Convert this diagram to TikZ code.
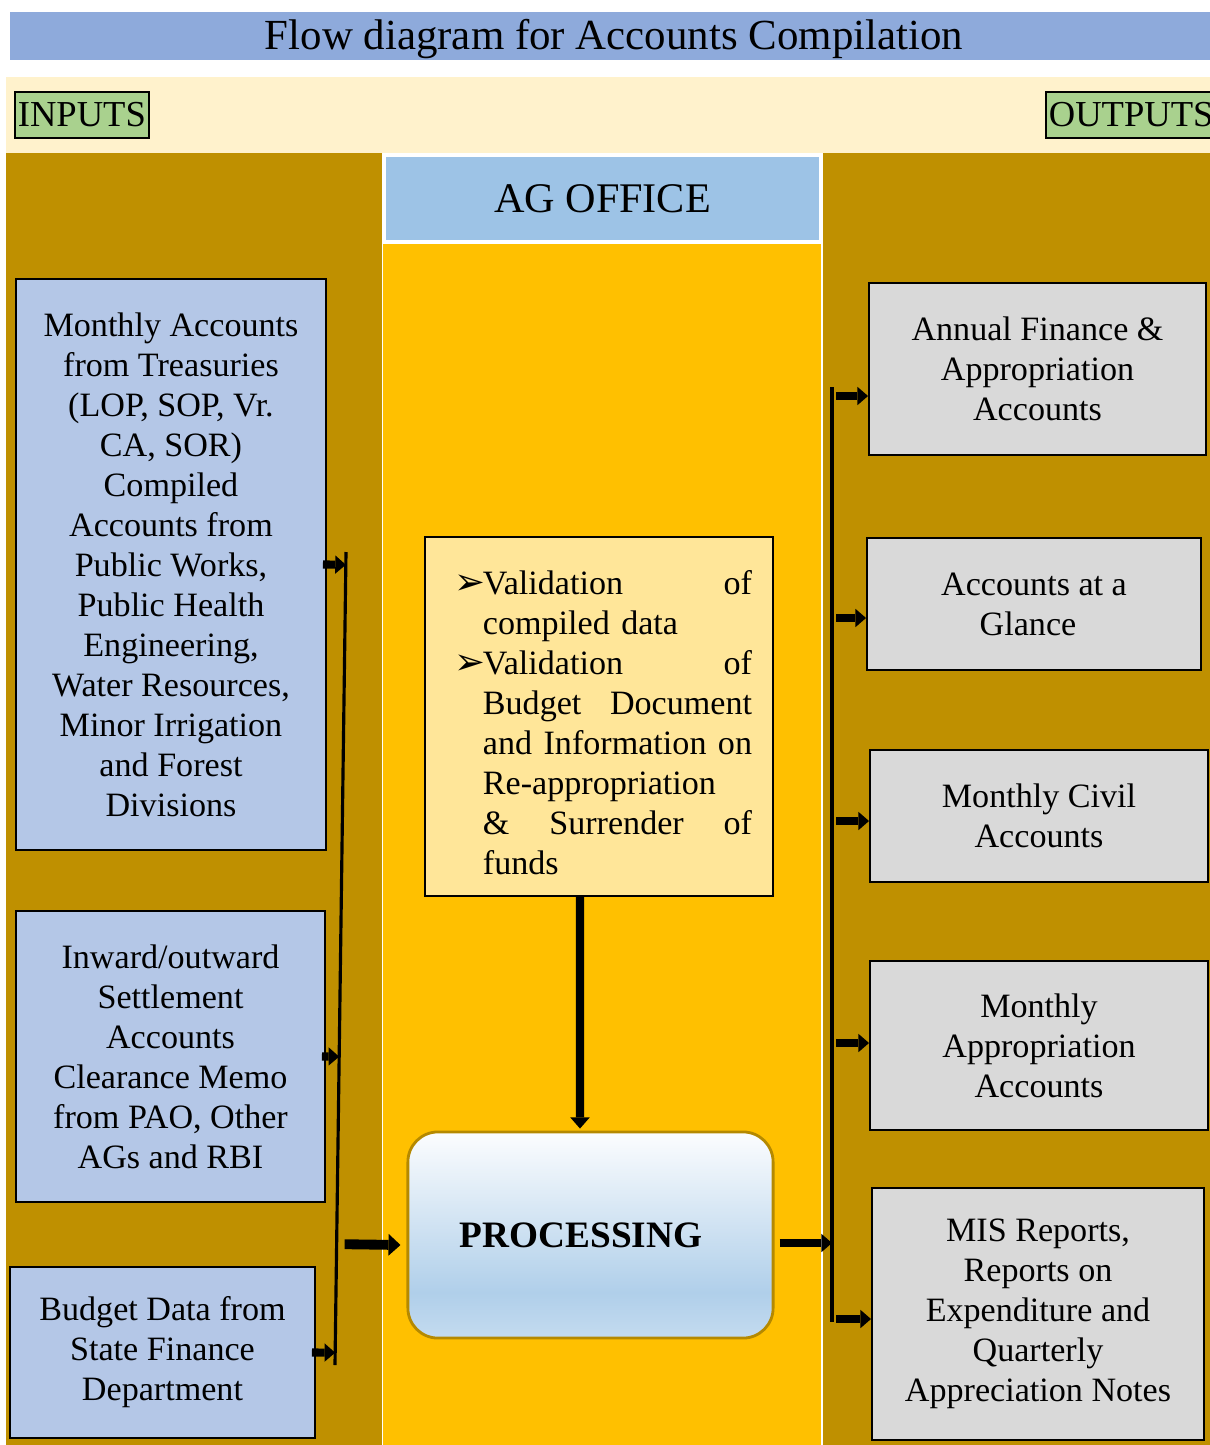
\documentclass[tikz,border=0pt]{standalone}
\usepackage{fontspec}
\setmainfont{Liberation Serif}
\newfontfamily\dejavu{DejaVu Sans}
\usetikzlibrary{arrows.meta,calc}
\definecolor{titleblue}{HTML}{8EAADB}
\definecolor{cream}{HTML}{FFF2CC}
\definecolor{gold}{HTML}{BF9000}
\definecolor{amber}{HTML}{FFC000}
\definecolor{headblue}{HTML}{9DC3E6}
\definecolor{inblue}{HTML}{B4C7E7}
\definecolor{paleyellow}{HTML}{FFE699}
\definecolor{outgray}{HTML}{D9D9D9}
\definecolor{tagreen}{HTML}{A9D18E}
\definecolor{procblue}{HTML}{B0CFEA}
\pgfdeclareverticalshading{procshade}{100bp}{color(0bp)=(procblue!75!white); color(25bp)=(procblue!75!white); color(36bp)=(procblue); color(75bp)=(white!96!procblue); color(100bp)=(white!96!procblue)}
\newcommand{\jline}[1]{\makebox[2.69cm][l]{#1}}
\newcommand{\valbullet}{\makebox[0.28cm][l]{\dejavu\fontsize{10.5}{10}\selectfont ➢}}
\begin{document}
\begin{tikzpicture}[x=0.01cm, y=-0.01cm,
  every node/.style={font=\fontsize{9.7}{11.38}\selectfont, inner sep=0pt},
  inbox/.style={draw=black, line width=0.5pt, fill=inblue, align=center},
  outbox/.style={draw=black, line width=0.5pt, fill=outgray, align=center},
  tag/.style={draw=black, line width=0.6pt, fill=tagreen, font=\fontsize{10.4}{12}\selectfont, inner xsep=0.8pt, minimum height=0.46cm, anchor=west},
  arr/.style={line width=2.3pt, -{Triangle[width=5.2pt,length=3pt,line width=0pt]}},
  bigarr/.style={line width=2.8pt, -{Triangle[width=6.2pt,length=3.4pt,line width=0pt]}},
  bus/.style={line width=0.9pt}]
\useasboundingbox (0,0) rectangle (1210,1445);
% bands and columns
\fill[titleblue] (10,12) rectangle (1210,60);
\node (title) at (614,39) {\fontsize{12.2}{14}\selectfont Flow diagram for Accounts Compilation};
\fill[cream] (6,77) rectangle (1210,153);
\fill[gold] (6,153) rectangle (381.5,1445);
\fill[gold] (822.5,153) rectangle (1210,1445);
\fill[amber] (383,155) rectangle (821,1445);
\node[fill=headblue, draw=white, line width=1pt, minimum width=4.37cm, minimum height=0.87cm] (head) at (602.5,198.5) {\fontsize{12}{14}\selectfont AG OFFICE};
\node[tag] (inputs) at (14,115) {INPUTS};
\node[tag] (outputs) at (1045,115) {OUTPUTS};
% inputs
\node[inbox, minimum width=3.10cm, minimum height=5.71cm] (in1) at (171,564.5) {Monthly Accounts\\from Treasuries\\(LOP, SOP, Vr.\\CA, SOR)\\Compiled\\Accounts from\\Public Works,\\Public Health\\Engineering,\\Water Resources,\\Minor Irrigation\\and Forest\\Divisions};
\node[inbox, minimum width=3.09cm, minimum height=2.91cm] (in2) at (170.5,1056.5) {Inward/outward\\Settlement\\Accounts\\Clearance Memo\\from PAO, Other\\AGs and RBI};
\node[inbox, minimum width=3.05cm, minimum height=1.71cm] (in3) at (162.5,1352.5) {Budget Data from\\State Finance\\Department};
% AG office
\node[draw=black, line width=0.6pt, fill=paleyellow, minimum width=3.48cm, minimum height=3.59cm] (val) at (599,716.5) {};
\node[align=left, text width=2.97cm] (valtxt) at (603.5,723) {\valbullet\jline{Validation\hfill of}\\
  \hspace*{0.28cm}compiled data\\
  \valbullet\jline{Validation\hfill of}\\
  \hspace*{0.28cm}\jline{Budget\hfill Document}\\
  \hspace*{0.28cm}\jline{and\hfill Information\hfill on}\\
  \hspace*{0.28cm}Re-appropriation\\
  \hspace*{0.28cm}\jline{\&\hfill Surrender\hfill of}\\
  \hspace*{0.28cm}funds};
\node[shading=procshade, draw=gold!95!black, line width=0.8pt, rounded corners=0.3cm, minimum width=3.65cm, minimum height=2.06cm] (proc) at (590.5,1235) {\fontsize{10.6}{12}\selectfont\bfseries PROCESSING\hspace*{0.19cm}};
% outputs
\node[outbox, minimum width=3.37cm, minimum height=1.72cm] (out1) at (1037.5,369) {Annual Finance \&\\Appropriation\\Accounts};
\node[outbox, minimum width=3.34cm, minimum height=1.32cm] (out2) at (1034,604) {Accounts at a\\Glance\hspace*{0.12cm}};
\node[outbox, minimum width=3.38cm, minimum height=1.32cm] (out3) at (1039,816) {Monthly Civil\\Accounts};
\node[outbox, minimum width=3.38cm, minimum height=1.69cm] (out4) at (1039,1045.5) {Monthly\\Appropriation\\Accounts};
\node[outbox, minimum width=3.32cm, minimum height=2.52cm] (out5) at (1038,1314) {MIS Reports,\\Reports on\\Expenditure and\\Quarterly\\Appreciation Notes};
% left collector
\coordinate (ltop) at (346,552);
\coordinate (lbot) at (335,1365);
\draw[bus] (ltop) -- (lbot);
\foreach \b in {in1,in2,in3}
  \draw[arr, shorten <=-0.04cm] (\b.east) -- ($(ltop)!(\b.east)!(lbot)$);
\coordinate (pin) at ($(proc.west)+(-6,10)$);
\draw[bigarr, shorten <=0.08cm] ($(ltop)!(pin)!(lbot)$) -- (pin);
\draw[arr, -{Triangle[width=5.6pt,length=3.2pt,line width=0pt]}, shorten >=0.02cm] ([xshift=-0.19cm]val.south) -- ([xshift=-0.105cm]proc.north);
% right distributor
\coordinate (rtop) at (832,387);
\coordinate (rbot) at (832,1322);
\draw[bus, line width=1.1pt] (rtop) -- (rbot);
\coordinate (pout) at ($(proc.east)+(5,8)$);
\draw[arr] (pout) -- (pout -| rtop);
\foreach \o/\y in {out1/396, out2/618, out3/821, out4/1043, out5/1319}
  \draw[arr, shorten <=0.04cm] (rtop |- 0,\y) -- (\o.west |- 0,\y);
\end{tikzpicture}
\end{document}
